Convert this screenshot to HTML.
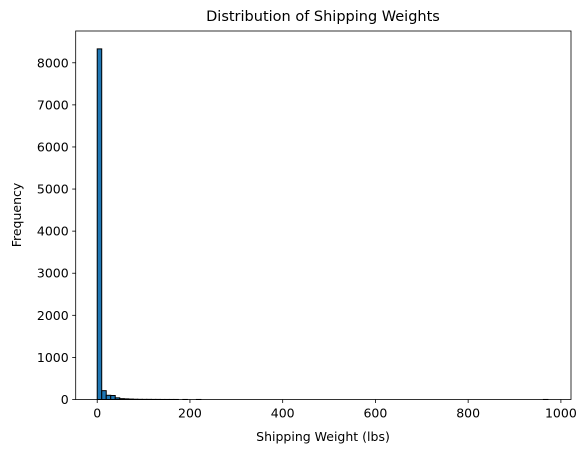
<!DOCTYPE html>
<html><head><meta charset="utf-8"><style>
body{margin:0;background:#fff;font-family:"Liberation Sans","DejaVu Sans",sans-serif;}
svg text{font-family:"DejaVu Sans","Liberation Sans",sans-serif;fill:#000}
</style></head><body>
<svg id="chart" width="587" height="453" xmlns="http://www.w3.org/2000/svg">
<text x="323" y="21" font-size="14.5" text-anchor="middle">Distribution of Shipping Weights</text>
<text x="323" y="441" font-size="12.5" text-anchor="middle">Shipping Weight (lbs)</text>
<text x="21" y="215" font-size="12.5" text-anchor="middle" transform="rotate(-90 21 215)">Frequency</text>
<g id="bars"></g>
<g id="axes"></g>
</svg>
<script>
const binStart = 0;
const binWidth = 9.72;
const counts = [8330,210,100,95,40,20,15,10,6,4,3,3,2,2,1,1,1,1,0,1,0,0,1,0,0,0,0,0,0,0,0,0,0,0,0,0,0,0,0,0,0,0,0,0,0,0,0,0,0,0,0,0,0,0,0,0,0,0,0,0,0,0,0,0,0,0,0,0,0,0,0,0,0,0,0,0,0,0,0,0,0,0,0,0,0,0,0,0,0,0,0,0,0,0,0,0,0,0,0,1];
const xTicks = [0,200,400,600,800,1000];
const yTicks = [0,1000,2000,3000,4000,5000,6000,7000,8000];
const L=75.7,R=571,T=31,B=399.5;
const xMin=-46.4,xMax=1021.8,yMax=8755;
const sx=v=>L+(v-xMin)/(xMax-xMin)*(R-L);
const sy=v=>B-v/yMax*(B-T);
const NS="http://www.w3.org/2000/svg";
const bars=document.getElementById('bars'),axes=document.getElementById('axes');
function mk(tag,attrs,parent){const e=document.createElementNS(NS,tag);for(const k in attrs)e.setAttribute(k,attrs[k]);parent.appendChild(e);return e;}
counts.forEach((c,i)=>{
  const x0=sx(binStart+i*binWidth),x1=sx(binStart+(i+1)*binWidth);
  const r=mk('rect',{x:x0,y:sy(c),width:x1-x0,height:Math.max(0,sy(0)-sy(c)),fill:'#1f77b4',stroke:'#000','stroke-width':1},bars);
  
  
});
const f=mk('rect',{x:L,y:T,width:R-L,height:B-T,fill:'none',stroke:'#000','stroke-width':0.8},axes);


xTicks.forEach(v=>{
  const x=sx(v);
  mk('line',{x1:x,x2:x,y1:B,y2:B+3.5,stroke:'#000','stroke-width':0.8},axes);
  const t=mk('text',{x:x,y:B+18,'font-size':12.5,'text-anchor':'middle'},axes);
  t.textContent=v;
  
  
});
yTicks.forEach(v=>{
  const y=sy(v);
  mk('line',{x1:L-3.5,x2:L,y1:y,y2:y,stroke:'#000','stroke-width':0.8},axes);
  const t=mk('text',{x:L-7,y:y+4.5,'font-size':12.5,'text-anchor':'end'},axes);
  t.textContent=v;
  
  
});
</script>
</body></html>
